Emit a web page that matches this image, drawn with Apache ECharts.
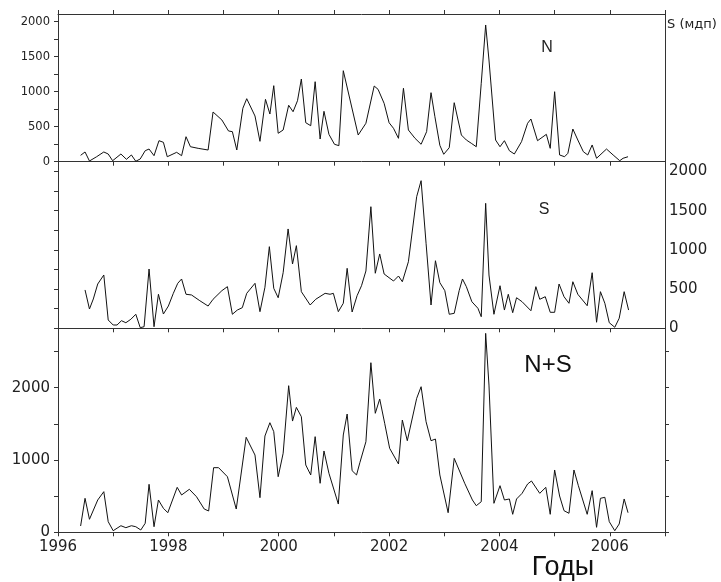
<!DOCTYPE html>
<html>
<head>
<meta charset="utf-8">
<script src="https://cdn.jsdelivr.net/npm/echarts@6/dist/echarts.min.js"></script>
<style>
  html, body { margin: 0; padding: 0; background: #fff; }
  #chart { width: 721px; height: 582px; }
</style>
</head>
<body>
<div id="chart"></div>
<script>
// Northern hemisphere area (N), by decimal year
const nYears = [1996.41,1996.49,1996.57,1996.70,1996.83,1996.91,1996.99,1997.14,1997.24,1997.33,1997.41,1997.49,1997.58,1997.65,1997.74,1997.83,1997.91,1997.98,1998.15,1998.24,1998.32,1998.40,1998.54,1998.72,1998.81,1998.97,1999.09,1999.16,1999.24,1999.35,1999.42,1999.57,1999.66,1999.76,1999.84,1999.91,1999.99,2000.08,2000.18,2000.26,2000.34,2000.41,2000.49,2000.58,2000.66,2000.75,2000.82,2000.91,2001.01,2001.09,2001.17,2001.44,2001.58,2001.73,2001.80,2001.91,2002.00,2002.08,2002.17,2002.26,2002.35,2002.47,2002.58,2002.68,2002.76,2002.83,2002.92,2002.99,2003.09,2003.18,2003.31,2003.40,2003.49,2003.58,2003.67,2003.75,2003.81,2003.93,2004.01,2004.09,2004.18,2004.27,2004.40,2004.51,2004.57,2004.69,2004.85,2004.92,2005.00,2005.09,2005.18,2005.24,2005.33,2005.42,2005.52,2005.60,2005.68,2005.76,2005.94,2006.06,2006.18,2006.24,2006.33];
const nValues = [91,139,10,71,139,110,14,110,34,96,6,39,157,181,86,300,277,71,134,86,357,214,191,167,710,596,439,429,167,763,900,653,291,891,681,1086,406,453,806,714,871,1181,557,514,1143,324,720,391,249,229,1300,381,549,1081,1034,834,557,477,334,1049,453,334,249,429,986,643,234,106,200,843,381,310,263,214,1120,1953,1453,310,214,300,157,110,286,549,610,300,391,191,1000,96,71,120,467,310,143,96,239,49,181,96,14,49,71];

// Southern hemisphere area (S)
const sYears = [1996.49,1996.57,1996.64,1996.72,1996.83,1996.91,1997.00,1997.07,1997.15,1997.23,1997.32,1997.41,1997.49,1997.56,1997.65,1997.74,1997.82,1997.91,1998.00,1998.09,1998.17,1998.24,1998.32,1998.42,1998.57,1998.72,1998.81,1998.97,1999.07,1999.16,1999.25,1999.34,1999.42,1999.57,1999.66,1999.75,1999.83,1999.91,1999.99,2000.08,2000.17,2000.25,2000.32,2000.41,2000.57,2000.67,2000.84,2000.93,2000.99,2001.08,2001.17,2001.24,2001.33,2001.42,2001.50,2001.58,2001.67,2001.75,2001.83,2001.91,2002.08,2002.17,2002.24,2002.35,2002.50,2002.58,2002.67,2002.76,2002.84,2002.92,2003.01,2003.09,2003.18,2003.27,2003.33,2003.40,2003.50,2003.61,2003.67,2003.75,2003.81,2003.90,2004.01,2004.09,2004.16,2004.24,2004.31,2004.41,2004.57,2004.66,2004.73,2004.83,2004.92,2005.00,2005.08,2005.17,2005.26,2005.33,2005.42,2005.59,2005.68,2005.76,2005.83,2005.91,2005.99,2006.09,2006.17,2006.26,2006.34];
const sValues = [489,246,374,565,680,106,42,42,97,71,115,179,8,20,756,20,434,182,284,446,574,629,434,425,352,284,370,480,531,179,233,263,446,574,212,523,1041,510,390,709,1267,820,1054,467,297,370,446,434,446,212,319,765,208,416,543,731,1551,702,948,693,603,667,594,849,1679,1883,1084,297,862,582,480,179,191,480,629,531,339,255,148,1594,680,179,543,233,434,199,390,339,224,531,370,403,204,204,565,403,319,594,434,288,709,77,467,319,71,13,128,467,233];

// Both hemispheres together (N+S)
const nsYears = [1996.41,1996.49,1996.57,1996.72,1996.83,1996.91,1997.00,1997.14,1997.23,1997.33,1997.41,1997.50,1997.58,1997.65,1997.74,1997.82,1997.91,1997.99,1998.16,1998.24,1998.38,1998.51,1998.65,1998.73,1998.82,1998.91,1999.07,1999.23,1999.41,1999.57,1999.66,1999.75,1999.84,1999.91,1999.99,2000.08,2000.18,2000.25,2000.32,2000.41,2000.49,2000.58,2000.66,2000.75,2000.82,2000.91,2001.08,2001.17,2001.24,2001.33,2001.41,2001.47,2001.58,2001.67,2001.75,2001.83,2001.92,2002.01,2002.17,2002.24,2002.33,2002.50,2002.58,2002.67,2002.76,2002.84,2002.92,2003.07,2003.18,2003.37,2003.51,2003.58,2003.67,2003.75,2003.81,2003.90,2004.01,2004.09,2004.18,2004.24,2004.31,2004.41,2004.51,2004.58,2004.73,2004.84,2004.92,2005.00,2005.09,2005.17,2005.26,2005.35,2005.43,2005.59,2005.68,2005.76,2005.83,2005.91,2005.99,2006.09,2006.17,2006.26,2006.33];
const nsValues = [87,470,180,447,562,147,22,91,64,91,77,32,124,664,77,447,332,271,622,516,595,492,322,295,894,894,769,322,1314,1069,479,1332,1516,1392,769,1093,2028,1539,1728,1599,931,793,1323,678,1125,816,391,1346,1636,852,793,963,1253,2346,1646,1844,1508,1162,945,1553,1267,1853,2014,1530,1267,1290,793,271,1023,678,447,368,423,2752,2037,401,645,447,461,249,461,539,668,710,539,622,249,862,502,299,263,862,645,249,576,69,470,484,147,22,115,461,271];

// Tick positions on the value axes
const topTicks = [0,250,500,750,1000,1250,1500,1750,2000];
const topLabels = [0,500,1000,1500,2000];
const midTicks = [0,250,500,750,1000,1250,1500,1750,2000];
const midLabels = [0,500,1000,1500,2000];
const botTicks = [0,500,1000,1500,2000,2500];
const botLabels = [0,1000,2000];
const yearLabels = [1996,1998,2000,2002,2004,2006];

const zip = (xs, ys) => xs.map((x, i) => [x, ys[i]]);

const AX = '#333';
const tickFont = 'DejaVu Sans';
const line = { color: AX, width: 1 };

function xAx(grid, pos, labels) {
  return {
    type: 'value', gridIndex: grid, position: pos,
    min: 1996, max: 2007, interval: 1,
    axisLine: { show: true, onZero: false, lineStyle: line },
    axisTick: { show: true, inside: false, length: 4, lineStyle: line },
    axisLabel: labels ? {
      show: true, margin: 7, color: '#222', fontFamily: tickFont, fontSize: 15,
      customValues: yearLabels,
      formatter: v => (yearLabels.indexOf(v) >= 0 ? String(v) : '')
    } : { show: false },
    splitLine: { show: false }
  };
}

function yAx(grid, pos, max, ticks, labels, fontSize, margin) {
  return {
    type: 'value', gridIndex: grid, position: pos,
    min: 0, max: max,
    axisLine: { show: true, onZero: false, lineStyle: line },
    axisTick: ticks ? { show: true, inside: false, length: 4, lineStyle: line, customValues: ticks } : { show: false },
    axisLabel: labels ? {
      show: true, margin: margin, color: '#222', fontFamily: tickFont, fontSize: fontSize,
      customValues: labels,
      formatter: v => (labels.indexOf(v) >= 0 ? String(v) : '')
    } : { show: false },
    splitLine: { show: false }
  };
}

const seriesStyle = { color: '#111', width: 1 };

const option = {
  animation: false,
  backgroundColor: '#fff',
  grid: [
    { left: 58, width: 607, top: 14, height: 147.7 },
    { left: 58, width: 607, top: 161.7, height: 166.6 },
    { left: 58, width: 607, top: 328.3, height: 204 }
  ],
  xAxis: [
    xAx(0, 'bottom', false),
    xAx(0, 'top', false),
    xAx(1, 'bottom', false),
    xAx(2, 'bottom', true)
  ],
  yAxis: [
    yAx(0, 'left', 2110, topTicks, topLabels, 11.5, 8),
    yAx(0, 'right', 2110, null, null),
    yAx(1, 'left', 2125, midTicks, null),
    yAx(1, 'right', 2125, null, midLabels, 15, 4),
    yAx(2, 'left', 2822, botTicks, botLabels, 15, 8),
    yAx(2, 'right', 2822, botTicks, null)
  ],
  series: [
    { name: 'N', type: 'line', xAxisIndex: 0, yAxisIndex: 0, data: zip(nYears, nValues),
      showSymbol: false, lineStyle: seriesStyle },
    { name: 'S', type: 'line', xAxisIndex: 2, yAxisIndex: 3, data: zip(sYears, sValues),
      showSymbol: false, lineStyle: seriesStyle },
    { name: 'N+S', type: 'line', xAxisIndex: 3, yAxisIndex: 4, data: zip(nsYears, nsValues),
      showSymbol: false, lineStyle: seriesStyle }
  ],
  graphic: [
    { type: 'text', left: 667, top: 18, style: { text: 'S (мдп)', font: '13px "DejaVu Sans"', fill: '#222' } },
    { type: 'text', x: 547, y: 48, style: { text: 'N', font: '16px "Liberation Sans"', fill: '#222', align: 'center', verticalAlign: 'middle' } },
    { type: 'text', x: 544, y: 210, style: { text: 'S', font: '16px "Liberation Sans"', fill: '#222', align: 'center', verticalAlign: 'middle' } },
    { type: 'text', x: 548, y: 365, style: { text: 'N+S', font: '24px "Liberation Sans"', fill: '#111', align: 'center', verticalAlign: 'middle' } },
    { type: 'text', x: 563, y: 568, style: { text: 'Годы', font: '27px "Liberation Sans"', fill: '#111', align: 'center', verticalAlign: 'middle' } }
  ]
};

echarts.init(document.getElementById('chart'), null, { renderer: 'canvas' }).setOption(option);
</script>
</body>
</html>
